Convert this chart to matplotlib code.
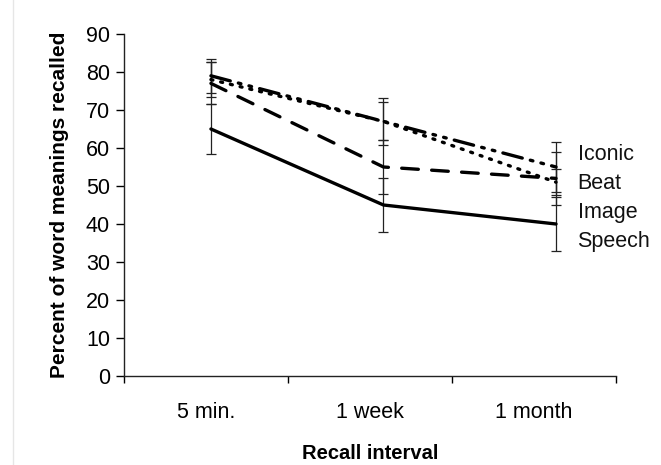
import numpy as np
import matplotlib
matplotlib.use("Agg")
import matplotlib.pyplot as plt
from matplotlib.lines import Line2D

plt.rcParams['font.family'] = ['Liberation Sans', 'DejaVu Sans']

# 数据
intervals = ["5 min.", "1 week", "1 month"]
series = ["Iconic", "Beat", "Image", "Speech"]
iconic = [79, 67, 55]
beat = [77, 55, 52]
image = [78, 67, 51]
speech = [65, 45, 40]
iconic_err = [4.5, 6.2, 6.5]
beat_err = [5.5, 7.0, 7.0]
image_err = [4.5, 5.0, 3.5]
speech_err = [6.5, 7.0, 7.0]

# 画布
fig = plt.figure(figsize=(6.61, 4.65), dpi=100)
ax = fig.add_axes([0.1876, 0.1914, 0.7444, 0.7355])

# 折线在各区间里的位置
pos = 0.53 + 1.052 * np.arange(len(intervals))

styles = {
    "Iconic": dict(dashes=(6, 2.5, 0.8, 2.5, 0.8, 2.5)),
    "Beat": dict(dashes=(5, 4)),
    "Image": dict(dashes=(0.6, 2.4)),
    "Speech": dict(linestyle="-"),
}
values = {"Iconic": iconic, "Beat": beat, "Image": image, "Speech": speech}
errs = {"Iconic": iconic_err, "Beat": beat_err, "Image": image_err, "Speech": speech_err}

for name in series:
    ax.errorbar(pos, values[name], yerr=errs[name], fmt="none", ecolor="#222222",
                elinewidth=0.9, capsize=3.6, capthick=0.9, zorder=2)
for name in series:
    ax.plot(pos, values[name], color="black", lw=2.4, solid_capstyle="round",
            dash_capstyle="round", zorder=3, **styles[name])

# 右侧标签
label_y = 58.2 - 7.6 * np.arange(len(series))
for name, y in zip(series, label_y):
    ax.text(2.765, y, name, fontsize=15.5, va="center", ha="left", color="#111111")

ax.set_xlim(0, 3)
ax.set_ylim(0, 90)
ax.set_yticks(np.arange(0, 91, 10))
ax.set_xticks([0, 1, 2, 3])
ax.set_xticklabels([])
ax.set_xticks([0.5, 1.5, 2.5], minor=True)
ax.set_xticklabels(intervals, minor=True)
ax.tick_params(axis="x", which="minor", length=0, pad=19, labelsize=15.5)
ax.tick_params(axis="x", which="major", length=5, width=1, direction="out")
ax.tick_params(axis="y", length=6, width=1, direction="out", labelsize=15.5, pad=4)

for s in ["top", "right"]:
    ax.spines[s].set_visible(False)
for s in ["left", "bottom"]:
    ax.spines[s].set_linewidth(1)
    ax.spines[s].set_color("#222222")

ax.set_ylabel("Percent of word meanings recalled", fontsize=15, fontweight="bold", labelpad=12)
# x轴名称，贴近底边
fig.text(0.56, 0.024, "Recall interval", fontsize=14.5, fontweight="bold", ha="center", va="center")

# 左边淡灰边框线
fig.add_artist(Line2D([0.0197, 0.0197], [0, 1], color="#e6e6e6", lw=1, transform=fig.transFigure))

plt.savefig("out.png", dpi=100)
